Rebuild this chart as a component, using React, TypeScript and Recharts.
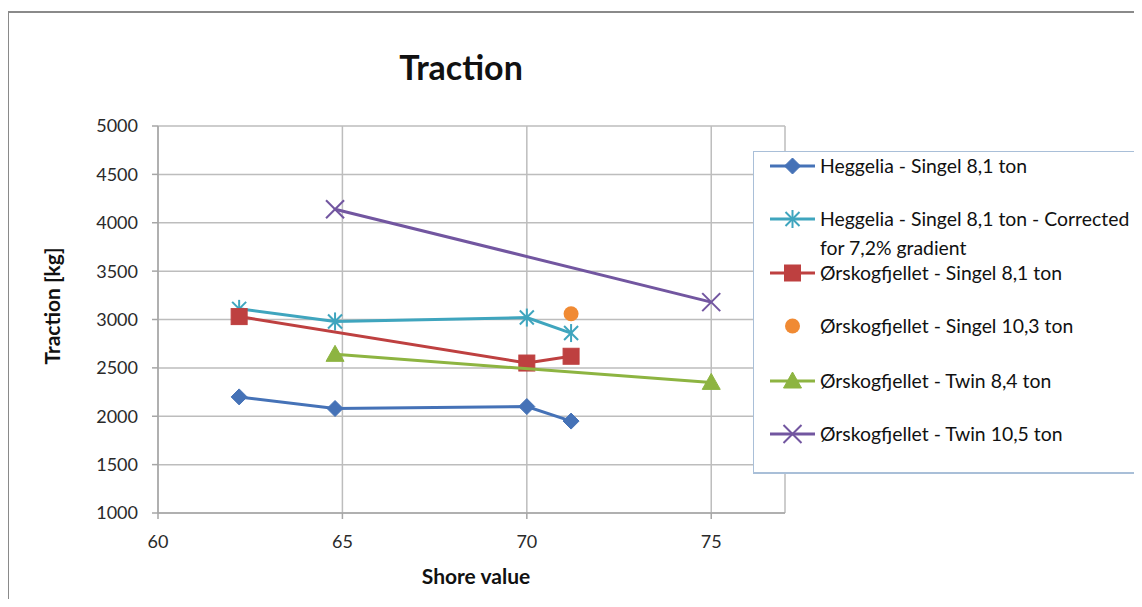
import React from 'react';
import { ScatterChart, Scatter, XAxis, YAxis, CartesianGrid } from 'recharts';

const FONT = 'Lato, "Open Sans", sans-serif';

// Axis ticks
const xTicks = [60, 65, 70, 75];
const yTicks = [1000, 1500, 2000, 2500, 3000, 3500, 4000, 4500, 5000];

// Series data (Shore value -> Traction [kg])
const heggeliaShore = [62.2, 64.8, 70.0, 71.2];
const heggeliaSingel81 = [2200, 2080, 2100, 1950];
const heggeliaCorrected = [3110, 2980, 3020, 2860];

const orskogSingel81Shore = [62.2, 70.0, 71.2];
const orskogSingel81 = [3030, 2550, 2620];

const orskogSingel103Shore = [71.2];
const orskogSingel103 = [3060];

const orskogTwinShore = [64.8, 75.0];
const orskogTwin84 = [2640, 2350];
const orskogTwin105 = [4140, 3180];

const seriesNames = [
  'Heggelia - Singel 8,1 ton',
  'Heggelia - Singel 8,1 ton - Corrected',
  'Ørskogfjellet - Singel 8,1 ton',
  'Ørskogfjellet - Singel 10,3 ton',
  'Ørskogfjellet - Twin 8,4 ton',
  'Ørskogfjellet - Twin 10,5 ton',
];

const COLORS = {
  blue: '#4572B7',
  cyan: '#3FA5BE',
  red: '#BE4040',
  orange: '#F08A33',
  green: '#8DB441',
  purple: '#7256A0',
};

const zip = (xs: number[], ys: number[]) => xs.map((x, i) => ({ x, y: ys[i] }));

type Kind = 'diamond' | 'asterisk' | 'square' | 'circle' | 'triangle' | 'x';

function Marker({ kind, color, cx, cy }: { kind: Kind; color: string; cx: number; cy: number }) {
  if (cx == null || cy == null) return null;
  switch (kind) {
    case 'diamond':
      return <polygon points={`${cx},${cy - 8} ${cx + 8},${cy} ${cx},${cy + 8} ${cx - 8},${cy}`} fill={color} stroke={color} strokeWidth={1} />;
    case 'square':
      return <rect x={cx - 8} y={cy - 8} width={16} height={16} fill={color} stroke={color} strokeWidth={1} />;
    case 'circle':
      return <circle cx={cx} cy={cy} r={7.5} fill={color} />;
    case 'triangle':
      return <polygon points={`${cx},${cy - 9} ${cx + 9},${cy + 7} ${cx - 9},${cy + 7}`} fill={color} stroke={color} strokeWidth={1} />;
    case 'asterisk':
      return (
        <g stroke={color} strokeWidth={2}>
          <line x1={cx - 7} y1={cy - 7} x2={cx + 7} y2={cy + 7} />
          <line x1={cx - 7} y1={cy + 7} x2={cx + 7} y2={cy - 7} />
          <line x1={cx} y1={cy - 9} x2={cx} y2={cy + 9} />
        </g>
      );
    case 'x':
      return (
        <g stroke={color} strokeWidth={2}>
          <line x1={cx - 9} y1={cy - 9} x2={cx + 9} y2={cy + 9} />
          <line x1={cx - 9} y1={cy + 9} x2={cx + 9} y2={cy - 9} />
        </g>
      );
  }
  return null;
}

const shapeOf = (kind: Kind, color: string) => (p: any) => <Marker kind={kind} color={color} cx={p.cx} cy={p.cy} />;

const legendRows: { name: string; kind: Kind; color: string; line: boolean; top: number; extra?: string }[] = [
  { name: seriesNames[0], kind: 'diamond', color: COLORS.blue, line: true, top: 14 },
  { name: seriesNames[1], kind: 'asterisk', color: COLORS.cyan, line: true, top: 67, extra: 'for 7,2% gradient' },
  { name: seriesNames[2], kind: 'square', color: COLORS.red, line: true, top: 121 },
  { name: seriesNames[3], kind: 'circle', color: COLORS.orange, line: false, top: 174 },
  { name: seriesNames[4], kind: 'triangle', color: COLORS.green, line: true, top: 229 },
  { name: seriesNames[5], kind: 'x', color: COLORS.purple, line: true, top: 282 },
];

function LegendBox() {
  return (
    <div
      style={{
        position: 'absolute',
        left: 745,
        top: 143,
        width: 389,
        height: 323,
        boxSizing: 'border-box',
        background: '#fff',
        borderTop: '1.5px solid #a9bfd8',
        borderLeft: '1.5px solid #a9bfd8',
        borderBottom: '2px solid #a9bfd8',
        fontFamily: FONT,
        fontSize: 19.4,
        color: '#111',
      }}
    >
      {legendRows.map((r) => (
        <React.Fragment key={r.name}>
          <svg style={{ position: 'absolute', left: 14, top: r.top - 12 }} width={50} height={24}>
            {r.line && <line x1={2} y1={12} x2={47} y2={12} stroke={r.color} strokeWidth={3} />}
            <Marker kind={r.kind} color={r.color} cx={24.5} cy={12} />
          </svg>
          <div style={{ position: 'absolute', left: 66, top: r.top - 10, lineHeight: '20px', whiteSpace: 'nowrap' }}>{r.name}</div>
          {r.extra && (
            <div style={{ position: 'absolute', left: 66, top: r.top + 19, lineHeight: '20px', whiteSpace: 'nowrap' }}>{r.extra}</div>
          )}
        </React.Fragment>
      ))}
    </div>
  );
}

export default function App() {
  const axisColor = '#a6a6a6';
  const tickStyle = { fill: '#2a2a2a', fontSize: 18, fontFamily: FONT };
  return (
    <div style={{ position: 'relative', width: 1126, height: 591, background: '#fff' }}>
      <div
        style={{
          position: 'absolute',
          left: -1,
          top: 3,
          width: 1200,
          height: 700,
          borderLeft: '2px solid #8a8a8a',
          borderTop: '2px solid #8a8a8a',
          boxSizing: 'border-box',
          pointerEvents: 'none',
        }}
      />
      <div style={{ position: 'absolute', left: 0, top: 0, width: 1126, height: 591, overflow: 'hidden' }}>
        <ScatterChart width={1126} height={591} margin={{ top: 118, right: 349, bottom: 46, left: 90 }}>
          <CartesianGrid stroke="#bdbdbd" strokeWidth={1.5} />
          <XAxis
            type="number"
            dataKey="x"
            domain={[60, 77]}
            ticks={xTicks}
            allowDataOverflow
            stroke={axisColor}
            strokeWidth={1.5}
            tickSize={6}
            tickMargin={16}
            height={40}
            tick={tickStyle}
          />
          <YAxis
            type="number"
            dataKey="y"
            domain={[1000, 5000]}
            ticks={yTicks}
            stroke={axisColor}
            strokeWidth={1.5}
            tickSize={6}
            tickMargin={14}
            width={60}
            tick={tickStyle}
          />
          <Scatter name={seriesNames[0]} data={zip(heggeliaShore, heggeliaSingel81)} line={{ stroke: COLORS.blue, strokeWidth: 3 }} lineType="joint" shape={shapeOf('diamond', COLORS.blue)} isAnimationActive={false} />
          <Scatter name={seriesNames[1]} data={zip(heggeliaShore, heggeliaCorrected)} line={{ stroke: COLORS.cyan, strokeWidth: 3 }} lineType="joint" shape={shapeOf('asterisk', COLORS.cyan)} isAnimationActive={false} />
          <Scatter name={seriesNames[2]} data={zip(orskogSingel81Shore, orskogSingel81)} line={{ stroke: COLORS.red, strokeWidth: 3 }} lineType="joint" shape={shapeOf('square', COLORS.red)} isAnimationActive={false} />
          <Scatter name={seriesNames[3]} data={zip(orskogSingel103Shore, orskogSingel103)} shape={shapeOf('circle', COLORS.orange)} isAnimationActive={false} />
          <Scatter name={seriesNames[4]} data={zip(orskogTwinShore, orskogTwin84)} line={{ stroke: COLORS.green, strokeWidth: 3 }} lineType="joint" shape={shapeOf('triangle', COLORS.green)} isAnimationActive={false} />
          <Scatter name={seriesNames[5]} data={zip(orskogTwinShore, orskogTwin105)} line={{ stroke: COLORS.purple, strokeWidth: 3 }} lineType="joint" shape={shapeOf('x', COLORS.purple)} isAnimationActive={false} />
        </ScatterChart>
      </div>
      <div
        style={{
          position: 'absolute',
          left: 453,
          top: 59,
          transform: 'translate(-50%, -50%)',
          fontFamily: FONT,
          fontWeight: 700,
          fontSize: 34,
          color: '#111',
          whiteSpace: 'nowrap',
          lineHeight: '40px',
        }}
      >
        Traction
      </div>
      <div
        style={{
          position: 'absolute',
          left: 468,
          top: 568,
          transform: 'translate(-50%, -50%)',
          fontFamily: FONT,
          fontWeight: 700,
          fontSize: 21,
          color: '#111',
          whiteSpace: 'nowrap',
          lineHeight: '26px',
        }}
      >
        Shore value
      </div>
      <div
        style={{
          position: 'absolute',
          left: 44,
          top: 298,
          transform: 'translate(-50%, -50%) rotate(-90deg)',
          fontFamily: FONT,
          fontWeight: 700,
          fontSize: 21,
          color: '#111',
          whiteSpace: 'nowrap',
          lineHeight: '26px',
        }}
      >
        Traction [kg]
      </div>
      <LegendBox />
    </div>
  );
}
